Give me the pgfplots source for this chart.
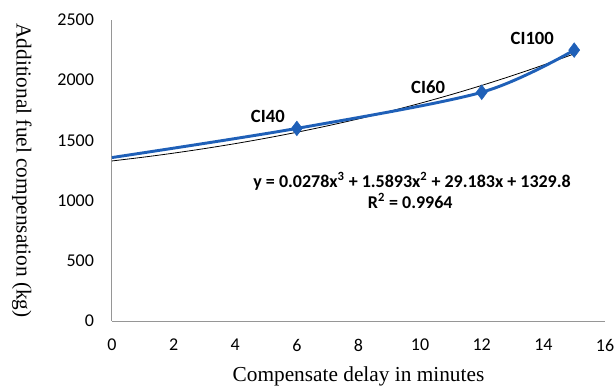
\documentclass[border=0pt]{standalone}
\usepackage{pgfplots}
\pgfplotsset{compat=1.18}
\usetikzlibrary{calc}
\usepackage{fontspec}
\setmainfont{Liberation Serif}
\newfontfamily\calibri{Carlito}
\definecolor{serblue}{RGB}{31,96,184}
\definecolor{axgray}{RGB}{150,150,150}
\begin{document}
\begin{tikzpicture}
\begin{axis}[
  scale only axis,
  width=370pt, height=226pt,
  xmin=0, xmax=16, ymin=0, ymax=2500,
  xtick={0,2,...,16}, ytick={0,500,...,2500},
  axis x line*=bottom, axis y line*=left,
  axis line style={axgray, line width=0.8pt},
  x axis line style={-}, y axis line style={-},
  major tick length=0pt,
  tick style={draw=none},
  ticklabel style={font=\calibri\fontsize{13.5}{15}\selectfont, text=black},
  /pgf/number format/assume math mode=true,
  /pgf/number format/1000 sep={},
  xticklabel style={yshift=-10pt},
  yticklabel style={xshift=-10pt},
  xlabel={Compensate delay in minutes},
  ylabel={Additional fuel compensation (kg)},
  label style={font=\fontsize{16}{18}\selectfont},
  xlabel style={at={(axis description cs:0.5,0)}, anchor=north, yshift=-31pt},
  ylabel style={at={(axis description cs:-0.1826,0.5)}, rotate=180, anchor=center},
  clip=false,
]
% polynomial trendline (black)
\addplot[black, line width=0.6pt, smooth] coordinates {
(0,1329.8) (1,1360.6) (2,1394.7) (3,1432.4) (4,1473.7) (5,1518.9)
(6,1568.1) (7,1621.5) (8,1679.2) (9,1741.4) (10,1808.4) (11,1880.1)
(12,1956.9) (13,2038.8) (14,2126.1) (15,2219.0)};
% data series (blue, smoothed)
\addplot[serblue, line width=2.2pt, smooth, tension=0.5] coordinates {
(0,1358) (6,1600) (12,1900) (15,2250)};
\addplot[only marks, mark=diamond*, mark size=5.5pt, color=serblue] coordinates {
(6,1600) (12,1900) (15,2250)};
\node[font=\calibri\bfseries\fontsize{14}{16}\selectfont] at (axis cs:5.06,1700) {CI40};
\node[font=\calibri\bfseries\fontsize{14}{16}\selectfont] at (axis cs:10.26,1945) {CI60};
\node[font=\calibri\bfseries\fontsize{14}{16}\selectfont] at (axis cs:13.64,2345) {CI100};
\node[font=\calibri\bfseries\fontsize{13.5}{15}\selectfont] at (axis cs:9.74,1164) {y = 0.0278x\textsuperscript{3} + 1.5893x\textsuperscript{2} + 29.183x + 1329.8};
\node[font=\calibri\bfseries\fontsize{13.5}{15}\selectfont] at (axis cs:9.68,1000) {R\textsuperscript{2} = 0.9964};
\end{axis}
\pgfresetboundingbox
\useasboundingbox ($(current axis.south west)+(-84pt,-50.25pt)$) rectangle ($(current axis.north east)+(6.75pt,15pt)$);
\end{tikzpicture}
\end{document}
